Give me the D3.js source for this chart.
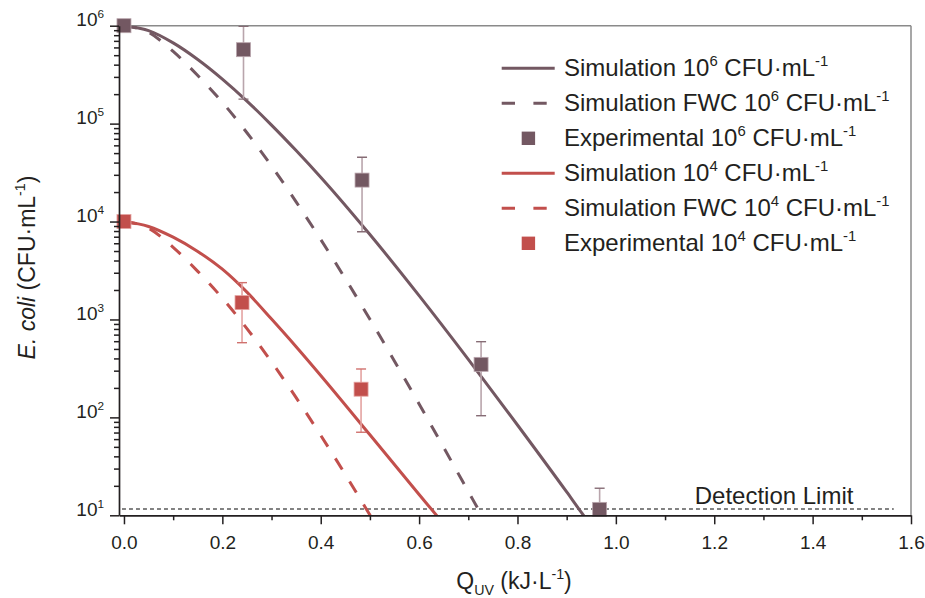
<!DOCTYPE html>
<html>
<head>
<meta charset="utf-8">
<script src="https://cdn.jsdelivr.net/npm/d3@7"></script>
<style>
  body { margin: 0; background: #fff; }
  svg { display: block; font-family: "Liberation Sans", Arial, Helvetica, sans-serif; }
</style>
</head>
<body>
<svg id="chart" width="925" height="598"></svg>
<script>
// ---- Data -------------------------------------------------------------
// Simulated inactivation curves, initial load 10^6 CFU/mL
const sim6X    = [0, 0.05, 0.1, 0.15, 0.2, 0.25, 0.3, 0.35, 0.4, 0.5, 0.6, 0.7, 0.8, 0.9, 0.931, 0.95];
const sim6Y    = [1000000, 891000, 668000, 452000, 285000, 170000, 96600, 53100, 28400, 7370, 1750, 391, 83.6, 17.3, 10.5, 7.8];
const simFwc6X = [0, 0.05, 0.1, 0.15, 0.2, 0.25, 0.3, 0.35, 0.4, 0.45, 0.5, 0.55, 0.6, 0.65, 0.7, 0.728, 0.74];
const simFwc6Y = [1000000, 855000, 546000, 310000, 165000, 80700, 36900, 15900, 6560, 2610, 1005, 375, 137, 49.2, 17.5, 9.8, 7.6];

// Simulated inactivation curves, initial load 10^4 CFU/mL
const sim4X    = [0, 0.05, 0.1, 0.15, 0.2, 0.25, 0.3, 0.35, 0.4, 0.5, 0.6, 0.636, 0.65];
const sim4Y    = [10000, 8910, 6920, 4950, 3260, 1900, 1010, 527, 268, 66.4, 16.3, 9.9, 8.1];
const simFwc4X = [0, 0.05, 0.1, 0.15, 0.2, 0.25, 0.3, 0.35, 0.4, 0.45, 0.5, 0.52];
const simFwc4Y = [10000, 8550, 5460, 3100, 1650, 807, 369, 159, 65.6, 26.1, 10.05, 6.8];

// Experimental results (mean, upper and lower error limits)
const exp6X     = [0, 0.243, 0.484, 0.726, 0.967];
const exp6Y     = [1000000, 569000, 26500, 348, 11.5];
const exp6Upper = [null, 986000, 45300, 593, 18.9];
const exp6Lower = [null, 178000, 7870, 104, 5];

const exp4X     = [0, 0.240, 0.482];
const exp4Y     = [10000, 1486, 194];
const exp4Upper = [null, 2377, 312];
const exp4Lower = [null, 579, 70.5];

// Detection limit of the plate count method
const detectionLimit = 11.6;
const detectionSpan  = [0, 1.565];

// Axis ticks
const xMajorTicks = [0, 0.2, 0.4, 0.6, 0.8, 1.0, 1.2, 1.4, 1.6];
const xMinorTicks = [0.1, 0.3, 0.5, 0.7, 0.9, 1.1, 1.3, 1.5];
const yExponents  = [1, 2, 3, 4, 5, 6];

// Legend labels: name and exponent of the initial load
const legendNames     = ["Simulation", "Simulation FWC", "Experimental", "Simulation", "Simulation FWC", "Experimental"];
const legendExponents = ["6", "6", "6", "4", "4", "4"];

// ---- Styles -----------------------------------------------------------
const BROWN = "#735862", BROWN_BAR = "#b9a5ac", BROWN_CAP = "#866c75";
const RED = "#c24f4c", RED_BAR = "#e4a3a1", RED_CAP = "#d0716e";
const AXIS = "#231f20";

// ---- Scales -----------------------------------------------------------
const svg = d3.select("#chart");
const x = d3.scaleLinear().domain([-0.0101, 1.6]).range([119, 911]);
const y = d3.scaleLog().domain([10, 1e6]).range([515.3, 25.7]);
const [xl, xr] = x.range();
const [yb, yt] = y.range();

// Rich text helper: plain, italic, superscript and subscript runs
function rich(sel, parts, size) {
  let shift = 0;
  parts.forEach(p => {
    const ts = sel.append("tspan").text(p.t);
    let target = 0;
    if (p.sup) { ts.attr("font-size", size * 0.62); target = -size * 0.42; }
    else if (p.sub) { ts.attr("font-size", size * 0.62); target = size * 0.24; }
    if (p.it) ts.attr("font-style", "italic");
    ts.attr("dy", target - shift);
    shift = target;
  });
}

// Clip region for the plotted series
svg.append("defs").append("clipPath").attr("id", "plot")
  .append("rect").attr("x", xl).attr("y", yt).attr("width", xr - xl).attr("height", yb - yt);

// Frame (top and right)
svg.append("line").attr("x1", xl).attr("x2", xr).attr("y1", yt).attr("y2", yt)
  .attr("stroke", "#8a8a8a").attr("stroke-width", 1.5);
svg.append("line").attr("x1", xr).attr("x2", xr).attr("y1", yt).attr("y2", yb)
  .attr("stroke", "#8a8a8a").attr("stroke-width", 1.5);

// Detection limit
svg.append("line")
  .attr("x1", x(detectionSpan[0]) - 2).attr("x2", x(detectionSpan[1]))
  .attr("y1", y(detectionLimit)).attr("y2", y(detectionLimit))
  .attr("stroke", "#5a5a5a").attr("stroke-width", 1.3).attr("stroke-dasharray", "4,3");
svg.append("text").attr("x", x(1.483)).attr("y", 504)
  .attr("text-anchor", "end").attr("font-size", 24).attr("fill", AXIS)
  .text("Detection Limit");

// ---- Curves -----------------------------------------------------------
const plot = svg.append("g").attr("clip-path", "url(#plot)");
const line = d3.line().x(d => x(d[0])).y(d => y(d[1])).curve(d3.curveMonotoneX);
const curves = [
  { xs: sim6X, ys: sim6Y, color: BROWN, dash: null },
  { xs: simFwc6X, ys: simFwc6Y, color: BROWN, dash: "13,14" },
  { xs: sim4X, ys: sim4Y, color: RED, dash: null },
  { xs: simFwc4X, ys: simFwc4Y, color: RED, dash: "13,14" }
];
curves.forEach(c => {
  plot.append("path")
    .datum(d3.zip(c.xs, c.ys))
    .attr("d", line)
    .attr("fill", "none")
    .attr("stroke", c.color)
    .attr("stroke-width", 3)
    .attr("stroke-dasharray", c.dash);
});

// ---- Experimental points with error bars -------------------------------
const experiments = [
  { xs: exp6X, ys: exp6Y, up: exp6Upper, lo: exp6Lower, color: BROWN, bar: BROWN_BAR, cap: BROWN_CAP },
  { xs: exp4X, ys: exp4Y, up: exp4Upper, lo: exp4Lower, color: RED, bar: RED_BAR, cap: RED_CAP }
];
experiments.forEach(e => {
  const pts = e.xs.map((v, i) => ({ x: v, y: e.ys[i], up: e.up[i], lo: e.lo[i] }));
  const withBars = pts.filter(p => p.up != null);
  const bars = plot.append("g");
  bars.selectAll("line.bar").data(withBars).join("line")
    .attr("x1", p => x(p.x)).attr("x2", p => x(p.x))
    .attr("y1", p => y(p.up)).attr("y2", p => y(p.lo))
    .attr("stroke", e.bar).attr("stroke-width", 1.6);
  ["up", "lo"].forEach(k => {
    bars.selectAll("line.cap-" + k).data(withBars).join("line")
      .attr("x1", p => x(p.x) - 5).attr("x2", p => x(p.x) + 5)
      .attr("y1", p => y(p[k])).attr("y2", p => y(p[k]))
      .attr("stroke", e.cap).attr("stroke-width", 1.4);
  });
  svg.append("g").selectAll("rect").data(pts).join("rect")
    .attr("x", p => x(p.x) - 7).attr("y", p => y(p.y) - 7)
    .attr("width", 14).attr("height", 14)
    .attr("fill", e.color)
    .attr("stroke", e.bar).attr("stroke-width", 0.8);
});

// ---- Axes -------------------------------------------------------------
function styleAxis(g) {
  g.select(".domain").attr("stroke", AXIS).attr("stroke-width", 1.7);
  g.selectAll(".tick line").attr("stroke", AXIS).attr("stroke-width", 1.5);
  g.selectAll(".tick text").attr("fill", AXIS);
}

const gx = svg.append("g").attr("transform", `translate(0,${yb})`)
  .call(d3.axisBottom(x).tickValues(xMajorTicks).tickSize(9).tickSizeOuter(0)
    .tickPadding(11).tickFormat(d3.format(".1f")))
  .attr("font-size", 19).attr("font-family", null);
styleAxis(gx);
const gxm = svg.append("g").attr("transform", `translate(0,${yb})`)
  .call(d3.axisBottom(x).tickValues(xMinorTicks).tickSize(5).tickFormat(""));
gxm.select(".domain").remove();
styleAxis(gxm);

const yMinorTicks = [];
yExponents.slice(0, -1).forEach(e => { for (let m = 2; m <= 9; m++) yMinorTicks.push(m * Math.pow(10, e)); });

const gy = svg.append("g").attr("transform", `translate(${xl},0)`)
  .call(d3.axisLeft(y).tickValues(yExponents.map(e => Math.pow(10, e)))
    .tickSize(9).tickSizeOuter(0).tickPadding(6).tickFormat(() => ""))
  .attr("font-size", 19).attr("font-family", null);
gy.selectAll(".tick text").each(function (d) {
  rich(d3.select(this), [{ t: "10" }, { t: String(Math.round(Math.log10(d))), sup: true }], 19);
});
styleAxis(gy);
const gym = svg.append("g").attr("transform", `translate(${xl},0)`)
  .call(d3.axisLeft(y).tickValues(yMinorTicks).tickSize(5).tickFormat(() => ""));
gym.select(".domain").remove();
styleAxis(gym);

// Axis titles
const yTitle = svg.append("text")
  .attr("transform", `translate(35,${(yt + yb) / 2 - 3}) rotate(-90)`)
  .attr("text-anchor", "middle").attr("font-size", 23).attr("fill", AXIS);
rich(yTitle, [{ t: "E. coli", it: true }, { t: " (CFU·mL" }, { t: "-1", sup: true }, { t: ")" }], 23);

const xTitle = svg.append("text")
  .attr("x", (xl + xr) / 2 - 1).attr("y", 589)
  .attr("text-anchor", "middle").attr("font-size", 23).attr("fill", AXIS);
rich(xTitle, [{ t: "Q" }, { t: "UV", sub: true }, { t: " (kJ·L" }, { t: "-1", sup: true }, { t: ")" }], 23);

// ---- Legend -----------------------------------------------------------
const legendKinds  = ["solid", "dash", "square", "solid", "dash", "square"];
const legendColors = [BROWN, BROWN, BROWN, RED, RED, RED];
const legend = svg.append("g").attr("transform", "translate(501.7,68.3)");
legendNames.forEach((name, i) => {
  const row = legend.append("g").attr("transform", `translate(0,${i * 35})`);
  const kind = legendKinds[i], col = legendColors[i];
  if (kind === "solid") {
    row.append("line").attr("x1", 0).attr("x2", 53).attr("stroke", col).attr("stroke-width", 3);
  } else if (kind === "dash") {
    row.append("line").attr("x1", 0).attr("x2", 45).attr("stroke", col).attr("stroke-width", 3)
      .attr("stroke-dasharray", "13.3,18.4");
  } else {
    row.append("rect").attr("x", 20).attr("y", -6.7).attr("width", 13.4).attr("height", 13.4).attr("fill", col);
  }
  const t = row.append("text").attr("x", 62.3).attr("y", 8).attr("font-size", 24).attr("fill", AXIS);
  rich(t, [{ t: name + " 10" }, { t: legendExponents[i], sup: true }, { t: " CFU·mL" }, { t: "-1", sup: true }], 24);
});
</script>
</body>
</html>
